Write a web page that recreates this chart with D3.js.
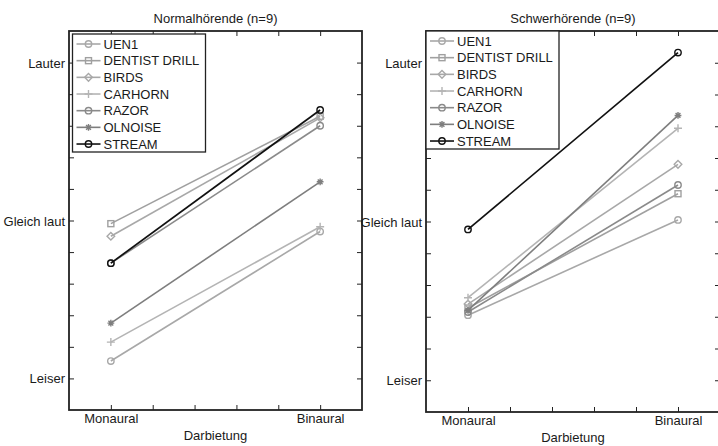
<!DOCTYPE html>
<html lang="de">
<head>
<meta charset="UTF-8">
<script src="https://d3js.org/d3.v7.min.js"></script>
<style>
  body { margin: 0; background: #fff; }
  svg text { font-family: "Liberation Sans", Arial, sans-serif; fill: #1a1a1a; }
</style>
</head>
<body>
<div id="chart"></div>
<script>
// categories on the x axis (two presentation modes)
const conditions = ["Monaural", "Binaural"];
const conditionPos = [1, 2];
const xTickValues = [1, 1.2, 1.4, 1.6, 1.8, 2];

// y axis: only three labelled ticks
const yLabelValues = [-1, 0, 1];
const yLabels = ["Leiser", "Gleich laut", "Lauter"];
const yTickValues = [-1, -0.8, -0.6, -0.4, -0.2, 0, 0.2, 0.4, 0.6, 0.8, 1];

const series = ["UEN1", "DENTIST DRILL", "BIRDS", "CARHORN", "RAZOR", "OLNOISE", "STREAM"];

// Normalhörende
const normalMon = [-0.89, -0.02, -0.10, -0.77, -0.27, -0.65, -0.27];
const normalBin = [-0.07, 0.66, 0.65, -0.04, 0.60, 0.245, 0.70];
// Schwerhörende
const hardMon = [-0.59, -0.545, -0.52, -0.48, -0.57, -0.56, -0.05];
const hardBin = [0.01, 0.175, 0.36, 0.587, 0.23, 0.668, 1.064];

const seriesColors = ["#a8a8a8", "#a0a0a0", "#a8a8a8", "#b4b4b4", "#8a8a8a", "#7e7e7e", "#111111"];
const seriesMarkers = ["circle", "square", "diamond", "plus", "circle", "star", "circle"];

const width = 718, height = 446;
const fontSize = "13px";
const svg = d3.select("#chart").append("svg")
    .attr("width", width)
    .attr("height", height);

const panels = [
    { title: "Normalhörende (n=9)", mon: normalMon, bin: normalBin,
      x0: 69, x1: 362, y0: 31, y1: 410, legX: 72.5, legY: 34 },
    { title: "Schwerhörende (n=9)", mon: hardMon, bin: hardBin,
      x0: 426, x1: 720, y0: 31, y1: 412, legX: 426, legY: 31 }
];

function drawMarker(g, type, cx, cy, color) {
    let el;
    if (type === "circle") {
        el = g.append("circle").attr("cx", cx).attr("cy", cy).attr("r", 3.2);
    } else if (type === "square") {
        el = g.append("rect").attr("x", cx - 3).attr("y", cy - 3).attr("width", 6).attr("height", 6);
    } else if (type === "diamond") {
        el = g.append("path").attr("d", `M${cx},${cy - 3.8}L${cx + 3.8},${cy}L${cx},${cy + 3.8}L${cx - 3.8},${cy}Z`);
    } else if (type === "plus") {
        el = g.append("path").attr("d", `M${cx - 4},${cy}H${cx + 4}M${cx},${cy - 4}V${cy + 4}`);
    } else {
        const d = 2.4;
        el = g.append("path").attr("d",
            `M${cx - 3.4},${cy}H${cx + 3.4}M${cx},${cy - 3.4}V${cy + 3.4}` +
            `M${cx - d},${cy - d}L${cx + d},${cy + d}M${cx - d},${cy + d}L${cx + d},${cy - d}`);
    }
    el.attr("fill", "none").attr("stroke", color).attr("stroke-width", 1.4);
}

panels.forEach(p => {
    const x = d3.scaleLinear().domain([0.8, 2.2]).range([p.x0, p.x1]);
    const y = d3.scaleLinear().domain([-1.2, 1.2]).range([p.y1, p.y0]);
    const g = svg.append("g");

    const yFmt = v => {
        const i = yLabelValues.findIndex(l => Math.abs(l - v) < 1e-6);
        return i >= 0 ? yLabels[i] : "";
    };
    const xFmt = v => {
        const i = conditionPos.findIndex(c => Math.abs(c - v) < 1e-6);
        return i >= 0 ? conditions[i] : "";
    };

    // axes with inward ticks, mirrored on top/right
    const axL = g.append("g").attr("transform", `translate(${p.x0},0)`)
        .call(d3.axisLeft(y).tickValues(yTickValues).tickSize(-5).tickPadding(4).tickFormat(yFmt));
    const axR = g.append("g").attr("transform", `translate(${p.x1},0)`)
        .call(d3.axisRight(y).tickValues(yTickValues).tickSize(-5).tickFormat(""));
    const axB = g.append("g").attr("transform", `translate(0,${p.y1})`)
        .call(d3.axisBottom(x).tickValues(xTickValues).tickSize(-5).tickPadding(6).tickFormat(xFmt));
    const axT = g.append("g").attr("transform", `translate(0,${p.y0})`)
        .call(d3.axisTop(x).tickValues(xTickValues).tickSize(-5).tickFormat(""));

    [axL, axR, axB, axT].forEach(a => {
        a.select(".domain").remove();
        a.selectAll(".tick line").attr("stroke", "#222").attr("stroke-width", 1);
        a.selectAll("text").attr("font-family", null).attr("font-size", fontSize).attr("fill", "#1a1a1a");
    });
    axL.selectAll("text").attr("dy", "0.35em");
    axB.selectAll("text").attr("dy", "0.55em");

    // series
    series.forEach((name, i) => {
        const col = seriesColors[i];
        const pts = [[x(conditionPos[0]), y(p.mon[i])], [x(conditionPos[1]), y(p.bin[i])]];
        g.append("path")
            .attr("d", d3.line()(pts))
            .attr("fill", "none")
            .attr("stroke", col)
            .attr("stroke-width", i === 6 ? 1.7 : 1.6);
        pts.forEach(pt => drawMarker(g, seriesMarkers[i], pt[0], pt[1], col));
    });

    // box
    g.append("rect")
        .attr("x", p.x0).attr("y", p.y0)
        .attr("width", p.x1 - p.x0).attr("height", p.y1 - p.y0)
        .attr("fill", "none").attr("stroke", "#222").attr("stroke-width", 1.8);

    // title and x label
    g.append("text")
        .attr("x", (p.x0 + p.x1) / 2).attr("y", p.y0 - 8.5)
        .attr("text-anchor", "middle").attr("font-size", fontSize)
        .text(p.title);
    g.append("text")
        .attr("x", (p.x0 + p.x1) / 2).attr("y", p.y1 + 29.5)
        .attr("text-anchor", "middle").attr("font-size", fontSize)
        .text("Darbietung");

    // legend
    const lg = g.append("g").attr("transform", `translate(${p.legX},${p.legY})`);
    lg.append("rect")
        .attr("width", 133).attr("height", 118)
        .attr("fill", "#fff").attr("stroke", "#222").attr("stroke-width", 1.3);
    series.forEach((name, i) => {
        const ry = 10 + i * 16.67;
        lg.append("line")
            .attr("x1", 4).attr("x2", 28).attr("y1", ry).attr("y2", ry)
            .attr("stroke", seriesColors[i]).attr("stroke-width", 1.6);
        drawMarker(lg, seriesMarkers[i], 16, ry, seriesColors[i]);
        lg.append("text")
            .attr("x", 31).attr("y", ry).attr("dy", "0.36em")
            .attr("font-size", fontSize)
            .text(name);
    });
});
</script>
</body>
</html>
